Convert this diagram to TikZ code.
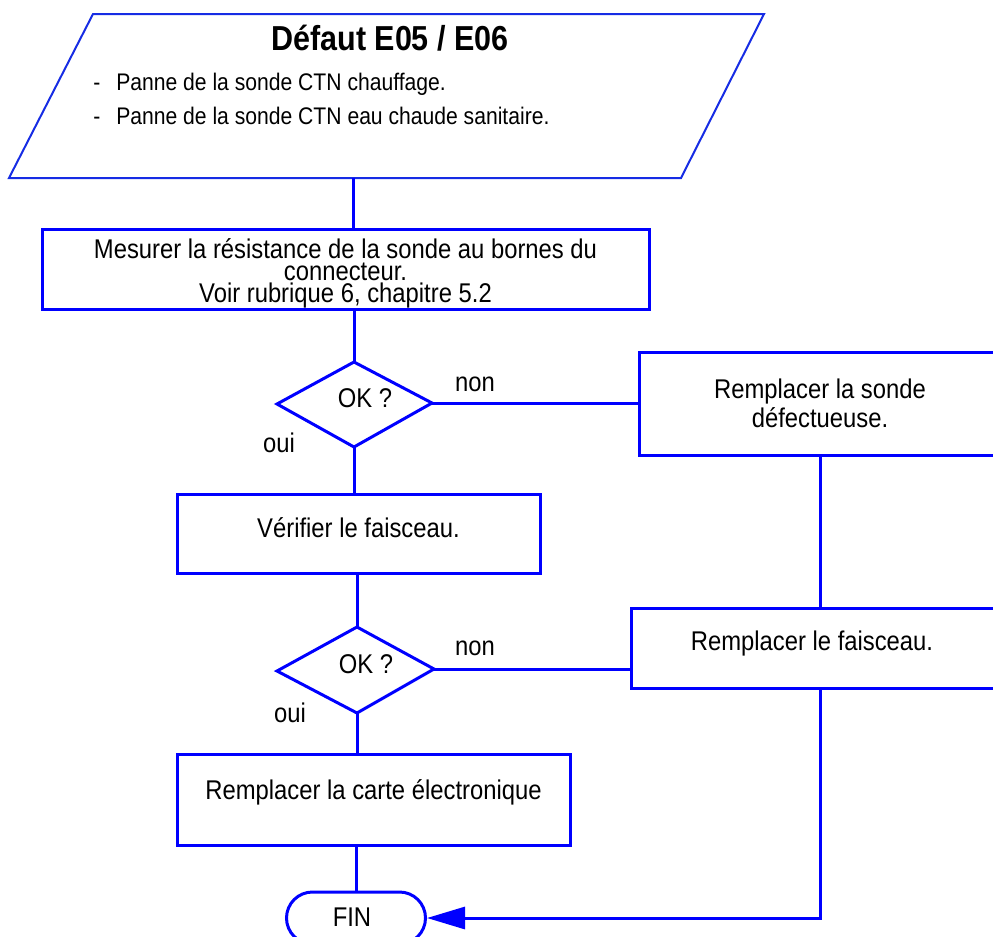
\documentclass[tikz,border=0pt]{standalone}
\usepackage{fontspec}
\setmainfont{Liberation Sans}[FakeStretch=0.88]
\usetikzlibrary{arrows.meta}
\definecolor{flowblue}{RGB}{0,0,255}
\definecolor{headblue}{RGB}{22,44,228}
\begin{document}
\begin{tikzpicture}[x=0.75pt,y=-0.75pt,
  box/.style={draw=flowblue,line width=2.25pt,rectangle,inner sep=0pt},
  decision/.style={draw=flowblue,line width=2.25pt},
  link/.style={draw=flowblue,line width=2.25pt},
  txt/.style={anchor=base,inner sep=0pt,align=center,font=\fontsize{20.3}{16.5}\selectfont},
  headtxt/.style={anchor=base west,inner sep=0pt,font=\fontsize{18}{21}\selectfont}]
\useasboundingbox (0,0) rectangle (993,936);

% header parallelogram
\draw[draw=headblue,line width=1.5pt] (93,14) -- (764,14) -- (681,178) -- (9,178) -- cycle;
\coordinate (pb) at (353,178);
\node[anchor=base,inner sep=0pt,font=\fontsize{26}{28}\selectfont\bfseries] (title) at (390,50) {Défaut E05 / E06};
\node[headtxt] (dash1) at (93,90) {-};
\node[headtxt] (item1) at (116,90) {Panne de la sonde CTN chauffage.};
\node[headtxt] (dash2) at (93,124) {-};
\node[headtxt] (item2) at (116,124) {Panne de la sonde CTN eau chaude sanitaire.};

% process boxes (multi-line texts are placed by the baseline of their last line)
\node[box,minimum width=607*0.75pt,minimum height=80*0.75pt] (b1) at (345.5,269) {};
\node[txt] (b1t) at (345.5,302) {Mesurer la résistance de la sonde au bornes du\\connecteur.\\Voir rubrique 6, chapitre 5.2};

\node[box,minimum width=362*0.75pt,minimum height=103*0.75pt] (b2) at (820,403.5) {};
\node[txt,font=\fontsize{20.3}{21.75}\selectfont] (b2t) at (820,427) {Remplacer la sonde\\défectueuse.};

\node[box,minimum width=363*0.75pt,minimum height=79*0.75pt] (bv) at (358.5,533.5) {};
\node[txt] (bvt) at (358.5,537) {Vérifier le faisceau.};

\node[box,minimum width=378*0.75pt,minimum height=80*0.75pt] (b3) at (820,648) {};
\node[txt] (b3t) at (812,650) {Remplacer le faisceau.};

\node[box,minimum width=393*0.75pt,minimum height=91*0.75pt] (b4) at (373.5,799.5) {};
\node[txt] (b4t) at (373.5,799) {Remplacer la carte électronique};

% decisions
\draw[decision] (354,362) coordinate (d1n) -- (432,403) coordinate (d1e)
  -- (354,447) coordinate (d1s) -- (277,404) coordinate (d1w) -- cycle;
\node[txt] (d1t) at (365,407) {OK ?};
\node[txt] (d1no) at (475,391) {non};
\node[txt] (d1yes) at (279,452) {oui};

\draw[decision] (357,627) coordinate (d2n) -- (434,669) coordinate (d2e)
  -- (357,713) coordinate (d2s) -- (277,671) coordinate (d2w) -- cycle;
\node[txt] (d2t) at (366,673) {OK ?};
\node[txt] (d2no) at (475,655) {non};
\node[txt] (d2yes) at (290,722) {oui};

% terminal
\node[draw=flowblue,line width=2.25pt,rectangle,rounded corners=19.5pt,
  minimum width=139*0.75pt,minimum height=52*0.75pt,inner sep=0pt] (fin) at (356,918) {};
\node[txt] (fint) at (352,926) {FIN};

% connectors
\draw[link] (pb) -- (pb |- b1.north);
\draw[link] (d1n |- b1.south) -- (d1n);
\draw[link] (d1s) -- (d1s |- bv.north);
\draw[link] (d2n |- bv.south) -- (d2n);
\draw[link] (d2s) -- (d2s |- b4.north);
\draw[link] (b4.south -| fin.north) -- (fin.north);
\draw[link] (d1e) -- (d1e -| b2.west);
\draw[link] (d2e) -- (d2e -| b3.west);
\draw[link] (b2.south) -- (b3.north);
\draw[link,-{Triangle[length=28.5pt,width=16.5pt]}] (b3.south) -- (b3.south |- fin.east) -- (fin.east);
\end{tikzpicture}
\end{document}
